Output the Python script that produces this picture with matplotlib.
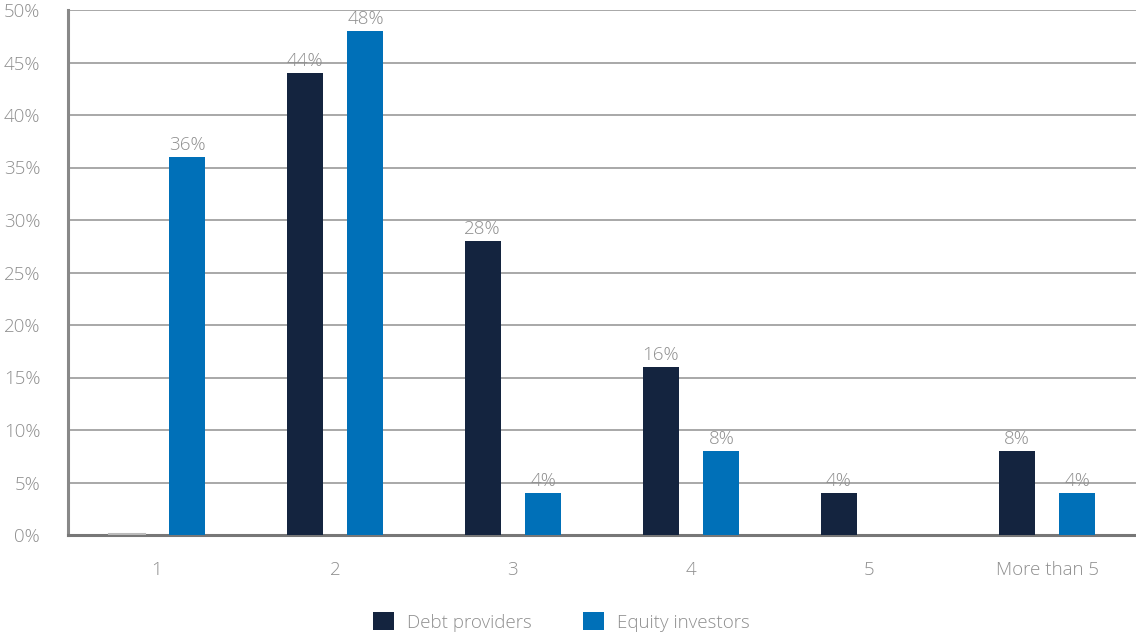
import matplotlib.pyplot as plt
import numpy as np

categories = ['1', '2', '3', '4', '5', 'More than 5']
debt_providers = [0, 44, 28, 16, 4, 8]
equity_investors = [36, 48, 4, 8, 0, 4]

plt.rcParams['font.family'] = ['Open Sans', 'DejaVu Sans']
plt.rcParams['font.weight'] = 'light'

navy = '#14243f'
blue = '#0070b8'
grey_text = '#8f8f8f'

fig = plt.figure(figsize=(11.36, 6.36), dpi=100)
ax = fig.add_axes([68 / 1136, 1 - 535 / 636, 1 - 68 / 1136, 525 / 636])

x = np.arange(len(categories))
off = 0.171
w = 0.202
b1 = ax.bar(x - off, debt_providers, w, color=navy, label='Debt providers', zorder=3)
b2 = ax.bar(x + off, equity_investors, w, color=blue, label='Equity investors', zorder=3)

# zero value in first group shows as a faint line
ax.plot([x[0] - off - w / 2, x[0] - off + w / 2], [0.1, 0.1], color='#bbbbbb', lw=1.5, zorder=4)

for bars, vals in ((b1, debt_providers), (b2, equity_investors)):
    for rect, v in zip(bars, vals):
        if v == 0:
            continue
        ax.text(rect.get_x() + rect.get_width() / 2, v + 0.3, f'{v}%',
                ha='center', va='bottom', fontsize=13.5, color=grey_text)

ax.set_xlim(-0.5, len(categories) - 0.5)
ax.set_ylim(0, 50)
ax.set_yticks(range(0, 51, 5))
ax.set_yticklabels([f'{t}%' for t in range(0, 51, 5)])
ax.set_xticks(x)
ax.set_xticklabels(categories)
ax.tick_params(axis='both', length=0, labelsize=13.5, colors=grey_text)
ax.tick_params(axis='x', pad=19)
ax.tick_params(axis='y', pad=20)

ax.grid(axis='y', color='#999999', lw=1.2, zorder=0)
for s in ('top', 'right'):
    ax.spines[s].set_visible(False)
ax.spines['left'].set_color('#888888')
ax.spines['left'].set_linewidth(2.2)
ax.spines['bottom'].set_color('#777777')
ax.spines['bottom'].set_linewidth(2.2)

leg = fig.legend(handles=[b1, b2], loc='center', bbox_to_anchor=(0.494, 1 - 622 / 636),
                 ncol=2, frameon=False, fontsize=13.5, handlelength=1.1, handleheight=1.1,
                 columnspacing=2.75, handletextpad=0.7)
for t in leg.get_texts():
    t.set_color(grey_text)

fig.savefig('out.png', dpi=100)
